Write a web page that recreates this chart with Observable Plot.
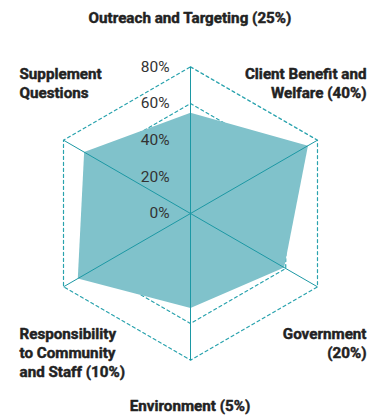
<!DOCTYPE html>
<html><head><meta charset="utf-8">
<script src="https://cdn.jsdelivr.net/npm/d3@7"></script>
<script src="https://cdn.jsdelivr.net/npm/@observablehq/plot@0.6"></script>
<style>html,body{margin:0;padding:0;background:#fff}svg{display:block}</style>
</head><body><div id="chart"></div>
<script>
const categories = [
  "Outreach and Targeting (25%)",
  "Client Benefit and\nWelfare (40%)",
  "Government\n(20%)",
  "Environment (5%)",
  "Responsibility\nto Community\nand Staff (10%)",
  "Supplement\nQuestions"
];
const values = [55, 74, 59, 51.5, 71, 67];
const gridLevels = [60, 80];
const tickValues = [0, 20, 40, 60, 80];
const tickLabels = ["0%", "20%", "40%", "60%", "80%"];
const maxLevel = 80;

const angle = i => Math.PI / 2 - i * Math.PI / 3;
const polar = (v, i) => ({x: v * Math.cos(angle(i)), y: v * Math.sin(angle(i))});

const shape = values.map((v, i) => polar(v, i));
shape.push(shape[0]);

const grid = gridLevels.flatMap(level =>
  [...categories.keys(), 0].map(i => ({level, ...polar(level, i)})));

const spokes = categories.map((c, i) => ({...polar(maxLevel, i)}));

const ticks = tickValues.map((v, i) => ({y: v, label: tickLabels[i]}));

const labelFont = {fontFamily: "Roboto", fontWeight: "bold", fontSize: 15.2, fill: "#222", stroke: "#222", strokeWidth: 0.45, lineHeight: 1.26, lineAnchor: "top"};
const labelPlacement = [
  {frameAnchor: "top", textAnchor: "middle", dx: 0, dy: 9},
  {frameAnchor: "top-right", textAnchor: "end", dx: -13, dy: 65},
  {frameAnchor: "bottom-right", textAnchor: "end", dx: -13, dy: -92},
  {frameAnchor: "bottom", textAnchor: "middle", dx: 0, dy: -20},
  {frameAnchor: "bottom-left", textAnchor: "start", dx: 19, dy: -92},
  {frameAnchor: "top-left", textAnchor: "start", dx: 19, dy: 65}
];

const teal = "#1c98a4";
const k = 1.833;

const chart = Plot.plot({
  width: 379,
  height: 417,
  margin: 0,
  style: {fontFamily: "Roboto", background: "#fff"},
  x: {domain: [-100, 100], range: [190 - 100 * k, 190 + 100 * k], axis: null},
  y: {domain: [-100, 100], range: [213 + 100 * k, 213 - 100 * k], axis: null},
  marks: [
    Plot.line(grid, {x: "x", y: "y", z: "level", stroke: "#2aa3ae", strokeWidth: 1.2, strokeDasharray: "3,3"}),
    Plot.line(shape, {x: "x", y: "y", fill: "#80c2cb", stroke: "none", curve: "linear"}),
    Plot.link(spokes, {x1: 0, y1: 0, x2: "x", y2: "y", stroke: teal, strokeWidth: 1}),
    Plot.text(ticks, {x: () => 0, y: "y", text: "label", dx: -21, textAnchor: "end", fontSize: 15.5, fill: "#333", fontFamily: "Roboto"}),
    ...categories.map((c, i) => Plot.text([c], {text: d => d, ...labelPlacement[i], ...labelFont}))
  ]
});
document.getElementById("chart").append(chart);
</script>
</body></html>
